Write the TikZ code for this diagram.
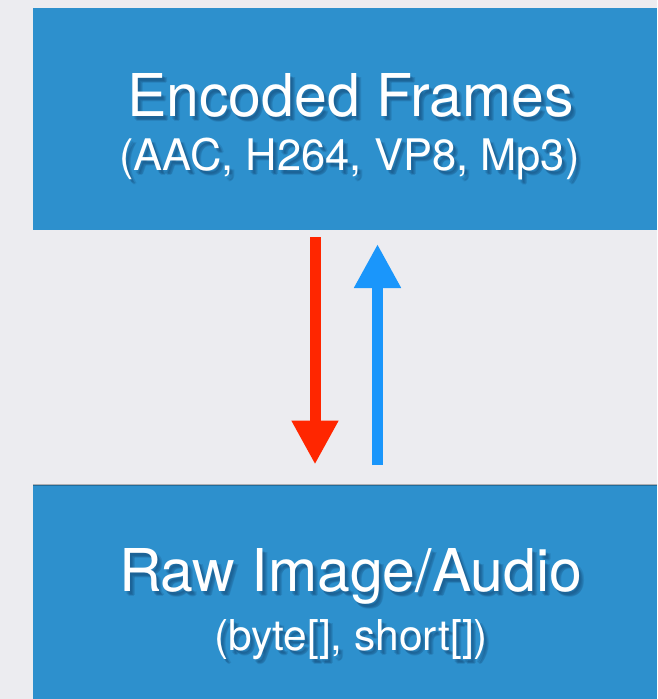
\documentclass[tikz,border=0pt]{standalone}
\usepackage{fontspec}
\setmainfont{TeX Gyre Heros}
\usetikzlibrary{arrows.meta}
\definecolor{bgc}{RGB}{236,236,240}
\definecolor{boxc}{RGB}{45,144,205}
\definecolor{redc}{RGB}{255,38,0}
\definecolor{bluec}{RGB}{26,150,251}
\definecolor{shc}{RGB}{10,50,90}
\tikzset{
  panel/.style={fill=boxc, draw=none, inner sep=0pt, minimum width=624pt, anchor=north west},
  titletext/.style={text=white, inner sep=0pt, anchor=base, font=\fontsize{59}{61}\selectfont},
  subtext/.style={text=white, inner sep=0pt, anchor=base, font=\fontsize{43.5}{45}\selectfont},
  subtextb/.style={text=white, inner sep=0pt, anchor=base, font=\fontsize{42.5}{44}\selectfont},
  shadowtext/.style={text=shc, text opacity=0.14},
  flow/.style={line width=11pt, line cap=butt, -{Triangle[width=44pt,length=44pt]}}
}
\begin{document}
\begin{tikzpicture}[x=1pt,y=-1pt]
\useasboundingbox[fill=bgc] (0,0) rectangle (657,699);
% panels
\node[panel, minimum height=221.5pt] (top) at (33,8) {};
\node[panel, minimum height=214pt] (bot) at (33,485) {};
\fill[black, opacity=0.25] (33,484) rectangle (657,485.5);
% soft text shadows
\foreach \dx/\dy in {2/3,4/5,3/4,5/4}{
  \node[titletext, shadowtext] at (350.5+\dx,116.7+\dy) {Encoded Frames};
  \node[subtext, shadowtext] at (349.5+\dx,170+\dy) {(AAC, H264, VP8, Mp3)};
  \node[titletext, shadowtext] at (350.7+\dx,591.7+\dy) {Raw Image/Audio};
  \node[subtextb, shadowtext] at (351+\dx,650+\dy) {(byte[], short[])};
}
% texts
\node[titletext] (t1) at (350.5,116.7) {Encoded Frames};
\node[subtext] (s1) at (349.5,170) {(AAC, H264, VP8, Mp3)};
\node[titletext] (t2) at (350.7,591.7) {Raw Image/Audio};
\node[subtextb] (s2) at (351,650) {(byte[], short[])};
% arrows
\coordinate (rs) at (315,237);
\coordinate (re) at (315,464.5);
\coordinate (bs) at (377.5,465);
\coordinate (be) at (377.5,244);
\draw[flow, redc] (rs) -- (re);
\draw[flow, bluec] (bs) -- (be);
\end{tikzpicture}
\end{document}
